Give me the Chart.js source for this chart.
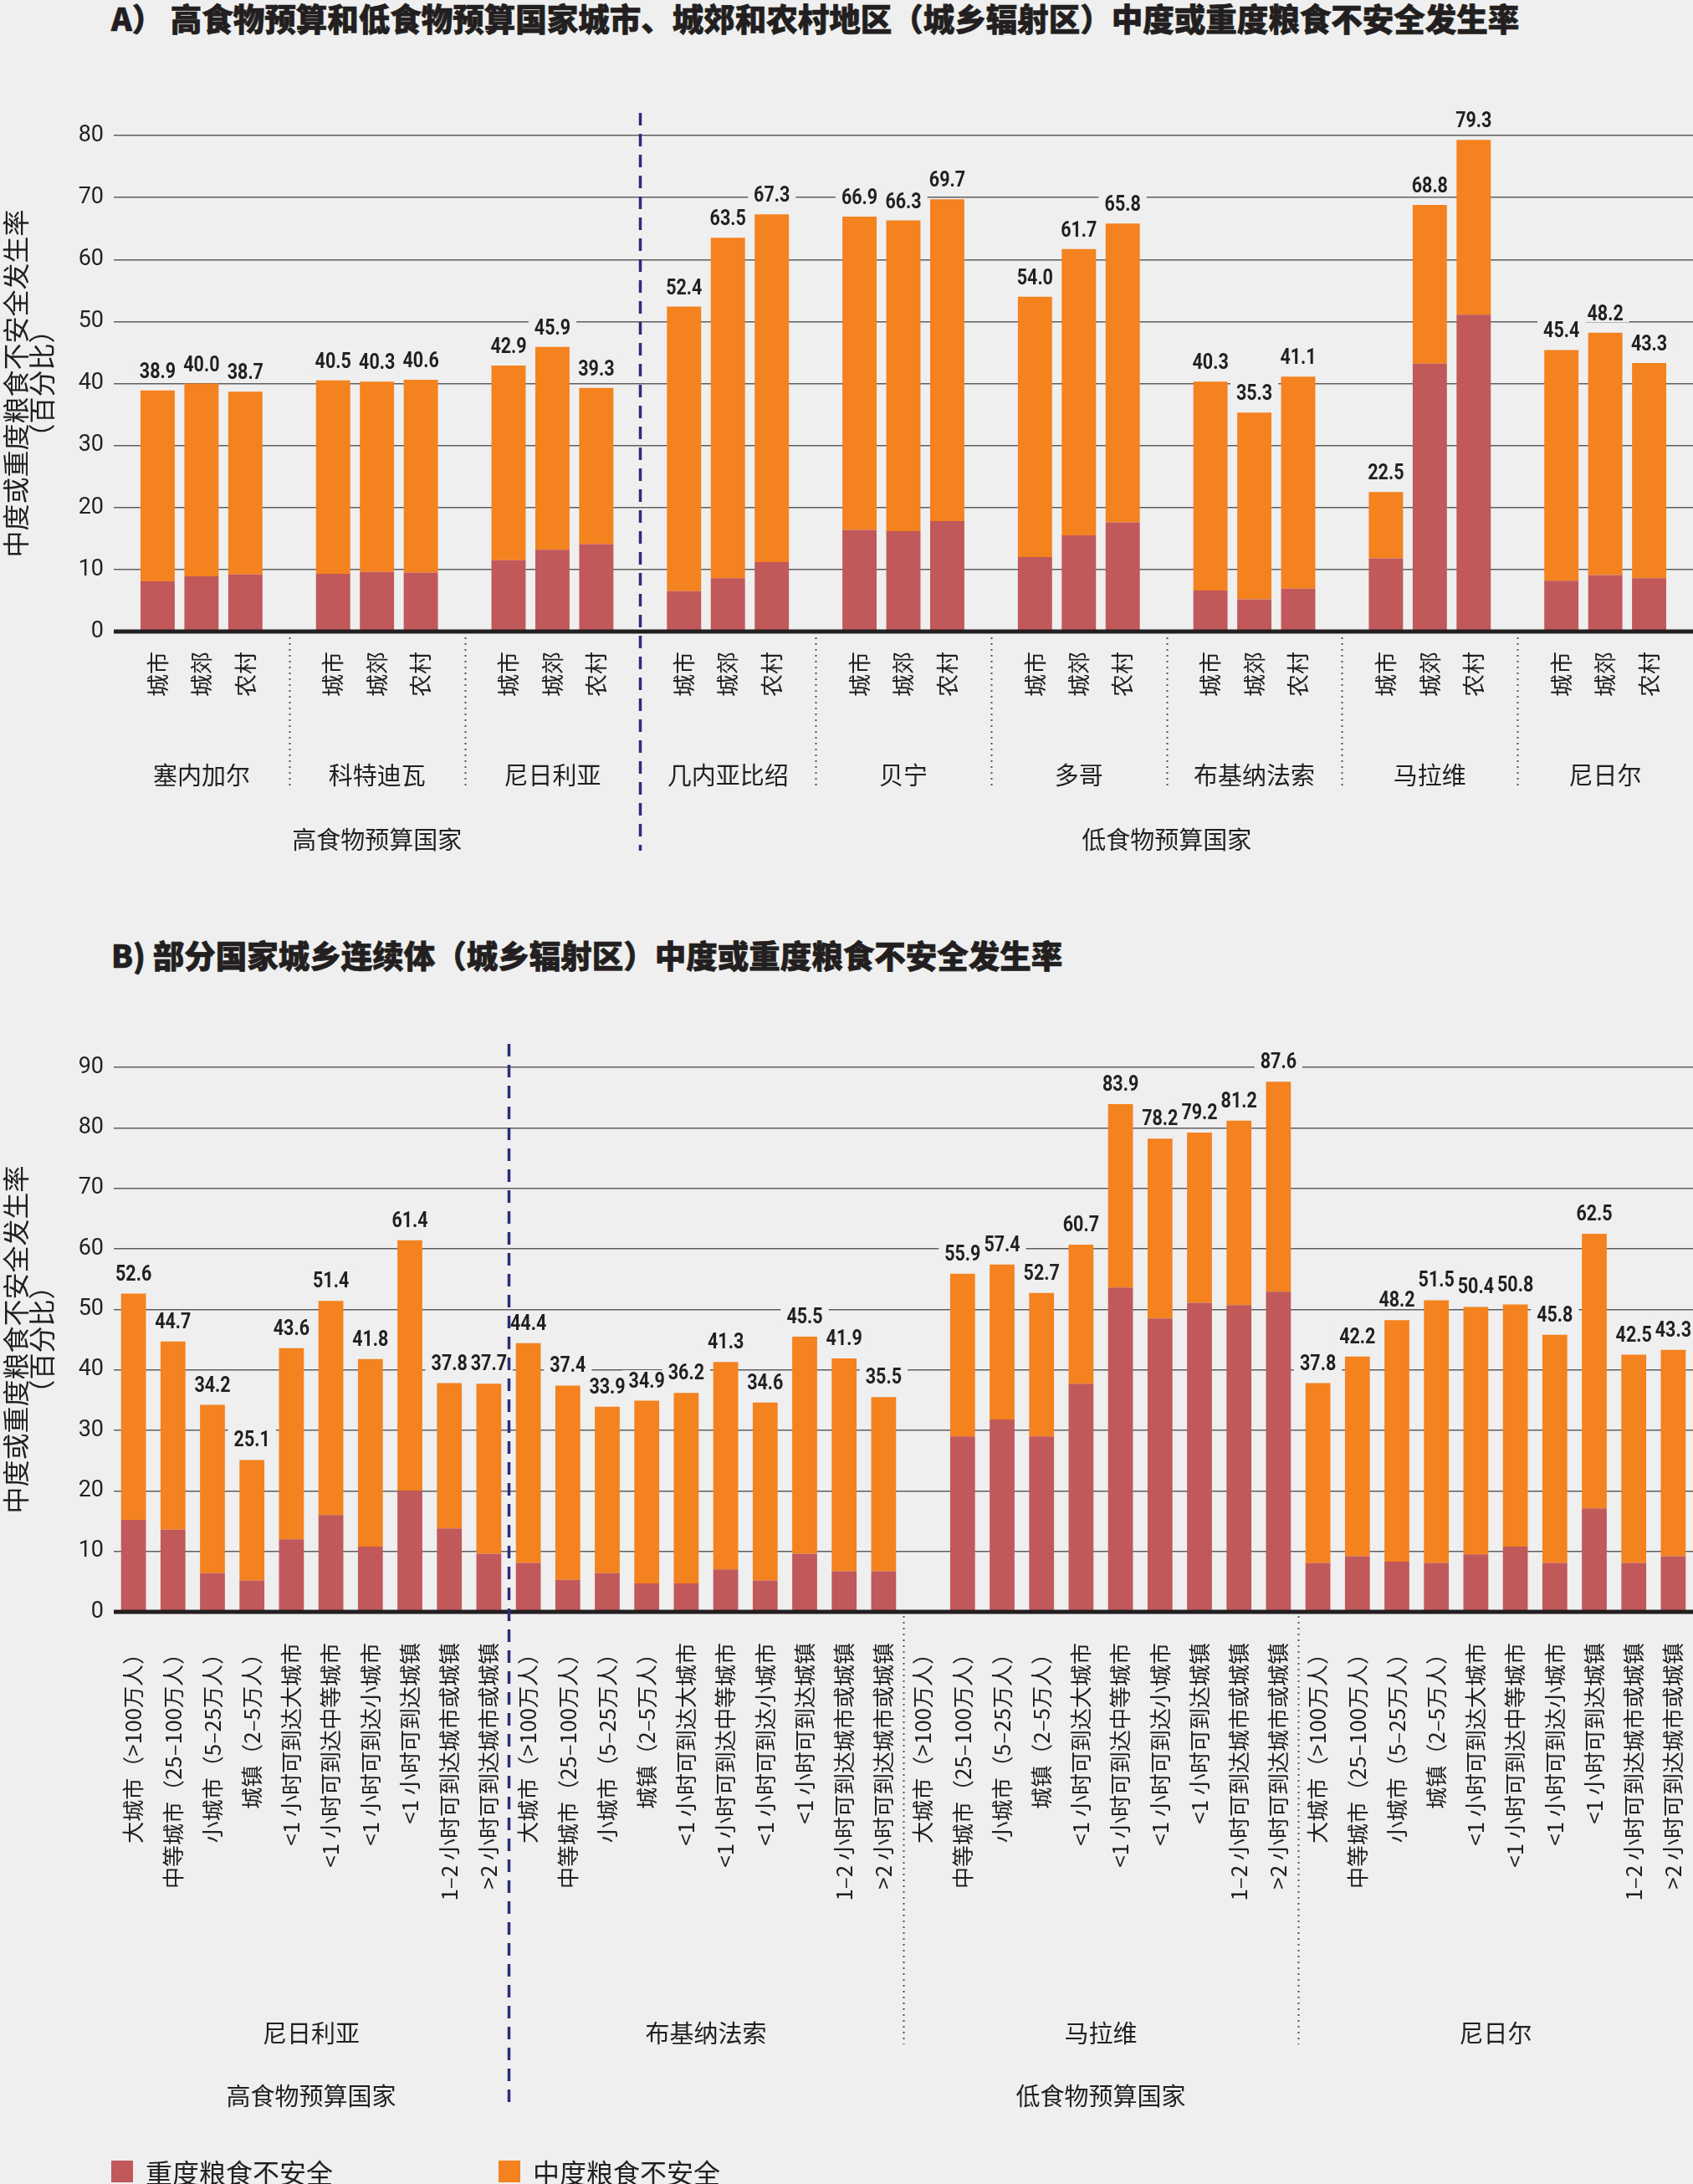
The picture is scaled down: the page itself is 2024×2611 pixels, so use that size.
<!DOCTYPE html>
<html lang="zh-CN">
<head>
<meta charset="utf-8">
<title>城乡辐射区中度或重度粮食不安全发生率</title>
<script src="https://cdn.jsdelivr.net/npm/chart.js@4.4.1/dist/chart.umd.min.js"></script>
<style>
    html, body { margin: 0; padding: 0; background: #efefef; }
    body { width: 2024px; height: 2611px; position: relative; overflow: hidden;
           font-family: 'Noto Sans CJK SC', sans-serif; color: #231f20; }
    .title { position: absolute; left: 133px; font-size: 37.5px; font-weight: 900; line-height: 40px; white-space: nowrap;
             -webkit-text-stroke: 0.7px #231f20; }
    canvas { position: absolute; left: 0; }
    #legend { position: absolute; left: 133px; top: 2576px; font-size: 32px; line-height: 40px; white-space: nowrap; }
    #legend span { position: absolute; top: 0; }
    #legend i { position: absolute; left: 0; top: 7px; width: 26px; height: 26px; }
</style>
</head>
<body>
<div class="title" style="top:1px">A） 高食物预算和低食物预算国家城市、城郊和农村地区（城乡辐射区）中度或重度粮食不安全发生率</div>
<canvas id="chartA" width="2024" height="1060" style="top:0"></canvas>
<div class="title" style="top:1121px">B) 部分国家城乡连续体（城乡辐射区）中度或重度粮食不安全发生率</div>
<canvas id="chartB" width="2024" height="1551" style="top:1060px"></canvas>
<div id="legend"></div>

<script>
const NUM_FONT = "Roboto, 'Noto Sans', sans-serif";
const CJK_FONT = "'Noto Sans CJK SC', sans-serif";
const TEXT_COLOR = '#231f20';
const BG_COLOR = '#efefef';
const SEVERE_COLOR = '#c1585a';
const MODERATE_COLOR = '#f4821f';
const SERIES_NAMES = ['重度粮食不安全', '中度粮食不安全'];
const Y_TITLE = ['中度或重度粮食不安全发生率', '（百分比）'];
const BUDGET_GROUPS = ['高食物预算国家', '低食物预算国家'];

// ---- A) 城市 / 城郊 / 农村 ----
const countriesA = ['塞内加尔', '科特迪瓦', '尼日利亚', '几内亚比绍', '贝宁', '多哥', '布基纳法索', '马拉维', '尼日尔'];
const areasA = ['城市', '城郊', '农村'];
const highBudgetA = 3;
const totalCityA = [38.9, 40.5, 42.9, 52.4, 66.9, 54.0, 40.3, 22.5, 45.4];
const totalPeriA = [40.0, 40.3, 45.9, 63.5, 66.3, 61.7, 35.3, 68.8, 48.2];
const totalRuralA = [38.7, 40.6, 39.3, 67.3, 69.7, 65.8, 41.1, 79.3, 43.3];
const severeCityA = [8.1, 9.3, 11.5, 6.5, 16.4, 12.0, 6.6, 11.8, 8.2];
const severePeriA = [8.9, 9.6, 13.2, 8.6, 16.2, 15.5, 5.2, 43.2, 9.1];
const severeRuralA = [9.2, 9.5, 14.1, 11.2, 17.8, 17.6, 6.9, 51.1, 8.6];
const ticksA = [0, 10, 20, 30, 40, 50, 60, 70, 80];

// ---- B) 城乡连续体 ----
const countriesB = ['尼日利亚', '布基纳法索', '马拉维', '尼日尔'];
const catchmentsB = ['大城市（>100万人）', '中等城市（25–100万人）', '小城市（5–25万人）', '城镇（2–5万人）',
    '<1 小时可到达大城市', '<1 小时可到达中等城市', '<1 小时可到达小城市', '<1 小时可到达城镇',
    '1–2 小时可到达城市或城镇', '>2 小时可到达城市或城镇'];
const highBudgetB = 1;
const totalNigeriaB = [52.6, 44.7, 34.2, 25.1, 43.6, 51.4, 41.8, 61.4, 37.8, 37.7];
const totalBurkinaB = [44.4, 37.4, 33.9, 34.9, 36.2, 41.3, 34.6, 45.5, 41.9, 35.5];
const totalMalawiB = [null, 55.9, 57.4, 52.7, 60.7, 83.9, 78.2, 79.2, 81.2, 87.6];
const totalNigerB = [37.8, 42.2, 48.2, 51.5, 50.4, 50.8, 45.8, 62.5, 42.5, 43.3];
const severeNigeriaB = [15.2, 13.6, 6.4, 5.2, 12.0, 16.0, 10.8, 20.0, 13.8, 9.6];
const severeBurkinaB = [8.1, 5.3, 6.4, 4.7, 4.7, 7.0, 5.2, 9.6, 6.7, 6.7];
const severeMalawiB = [null, 29.0, 31.8, 29.0, 37.7, 53.6, 48.5, 51.1, 50.7, 52.9];
const severeNigerB = [8.1, 9.2, 8.3, 8.1, 9.5, 10.8, 8.1, 17.1, 8.1, 9.2];
const ticksB = [0, 10, 20, 30, 40, 50, 60, 70, 80, 90];

// A 图：每个国家前留一个空位，最后再留一个，三根柱子落在中间
function spreadA(byArea, empty) {
    const out = [];
    countriesA.forEach((c, g) => {
        out.push(empty);
        byArea.forEach(arr => out.push(arr[g]));
    });
    out.push(empty);
    return out;
}

function moderateOf(totals, severe) {
    return totals.map((t, i) => (t == null ? null : Math.round((t - severe[i]) * 10) / 10));
}

const labelsA = spreadA(areasA.map(a => countriesA.map(() => a)), '');
const totalsA = spreadA([totalCityA, totalPeriA, totalRuralA], null);
const severeA = spreadA([severeCityA, severePeriA, severeRuralA], null);

const labelsB = countriesB.flatMap(() => catchmentsB);
const totalsB = [].concat(totalNigeriaB, totalBurkinaB, totalMalawiB, totalNigerB);
const severeB = [].concat(severeNigeriaB, severeBurkinaB, severeMalawiB, severeNigerB);

// 柱顶数值，带底色遮住网格线（字体横向压窄一点）
const totalLabels = {
    id: 'totalLabels',
    afterDatasetsDraw(chart, args, opts) {
        const ctx = chart.ctx;
        const meta = chart.getDatasetMeta(1);
        const y = chart.scales.y;
        const squeeze = 0.86;
        const items = [];
        ctx.save();
        ctx.font = `bold ${opts.size}px ${NUM_FONT}`;
        opts.totals.forEach((v, i) => {
            if (v == null) return;
            const text = v.toFixed(1);
            items.push({ text, x: meta.data[i].x, y: y.getPixelForValue(v) - opts.gap, w: ctx.measureText(text).width * squeeze + 14 });
        });
        ctx.fillStyle = BG_COLOR;
        items.forEach(it => ctx.fillRect(it.x - it.w / 2, it.y - opts.size * 0.82, it.w, opts.size * 0.92));
        ctx.fillStyle = TEXT_COLOR;
        ctx.textAlign = 'center';
        ctx.textBaseline = 'alphabetic';
        items.forEach(it => {
            ctx.save();
            ctx.translate(it.x, it.y);
            ctx.scale(squeeze, 1);
            ctx.fillText(it.text, 0, 0);
            ctx.restore();
        });
        ctx.restore();
    }
};

// 零线画在柱子上面
const zeroLine = {
    id: 'zeroLine',
    afterDatasetsDraw(chart) {
        const ctx = chart.ctx;
        const area = chart.chartArea;
        const y0 = chart.scales.y.getPixelForValue(0);
        ctx.save();
        ctx.strokeStyle = TEXT_COLOR;
        ctx.lineWidth = 5;
        ctx.beginPath();
        ctx.moveTo(area.left, y0);
        ctx.lineTo(area.right, y0);
        ctx.stroke();
        ctx.restore();
    }
};

// 国家之间的点线，预算分组之间的蓝色虚线
const separators = {
    id: 'separators',
    afterDraw(chart, args, opts) {
        const ctx = chart.ctx;
        const x = chart.scales.x;
        ctx.save();
        opts.lines.forEach(l => {
            const px = Math.round(x.getPixelForValue(l.at)) + 0.5;
            ctx.beginPath();
            if (l.budget) {
                ctx.strokeStyle = '#2b2c7c';
                ctx.lineWidth = 3.5;
                ctx.setLineDash([15, 10]);
                ctx.moveTo(px, opts.dashTop);
                ctx.lineTo(px, opts.dashBottom);
            } else {
                ctx.strokeStyle = '#555555';
                ctx.lineWidth = 2;
                ctx.setLineDash([2, 5]);
                ctx.moveTo(px, opts.dotTop);
                ctx.lineTo(px, opts.dotBottom);
            }
            ctx.stroke();
        });
        ctx.restore();
    }
};

function fixedWidth(w) {
    return scale => { scale.width = w; };
}
// 固定高度，并去掉末端标签引起的左右留白
function fixedHeight(h) {
    return scale => {
        scale.height = h;
        scale.paddingLeft = 0;
        scale.paddingRight = 0;
    };
}

function buildChart(canvasId, cfg) {
    const CONTEXT = document.getElementById(canvasId).getContext('2d');
    const n = cfg.countries.length;
    // 预算分组标签轴：2n+1 个位置，标签放在各组中点
    const budgetSlots = Array.from({ length: 2 * n + 1 }, () => '');
    budgetSlots[cfg.highBudget] = BUDGET_GROUPS[0];
    budgetSlots[cfg.highBudget + n] = BUDGET_GROUPS[1];
    return new Chart(CONTEXT, {
        type: 'bar',
        data: {
            labels: cfg.labels,
            datasets: [{
                label: SERIES_NAMES[0],
                data: cfg.severe,
                backgroundColor: SEVERE_COLOR,
                barPercentage: cfg.barPercentage,
                categoryPercentage: 1
            }, {
                label: SERIES_NAMES[1],
                data: moderateOf(cfg.totals, cfg.severe),
                backgroundColor: MODERATE_COLOR,
                barPercentage: cfg.barPercentage,
                categoryPercentage: 1
            }]
        },
        options: {
            responsive: false,
            animation: false,
            layout: { padding: { top: cfg.padTop, bottom: cfg.padBottom, left: 0, right: 0 } },
            plugins: {
                legend: { display: false },
                tooltip: { enabled: false },
                totalLabels: { totals: cfg.totals, size: 25, gap: cfg.labelGap },
                separators: cfg.separators
            },
            scales: {
                x: {
                    stacked: true,
                    offset: cfg.offset,
                    weight: 0,
                    grid: { display: false, drawTicks: false, offset: false },
                    border: { display: false },
                    ticks: {
                        autoSkip: false,
                        minRotation: 90,
                        maxRotation: 90,
                        padding: cfg.tickPad,
                        color: TEXT_COLOR,
                        font: { family: CJK_FONT, size: cfg.tickSize }
                    },
                    afterFit: fixedHeight(cfg.tickHeight)
                },
                xc: {
                    type: 'category',
                    position: 'bottom',
                    labels: cfg.countries,
                    offset: true,
                    weight: 1,
                    grid: { display: false, drawTicks: false },
                    border: { display: false },
                    ticks: { autoSkip: false, maxRotation: 0, padding: cfg.countryPad, color: TEXT_COLOR, font: { family: CJK_FONT, size: 29 } },
                    afterFit: fixedHeight(cfg.countryHeight)
                },
                xb: {
                    type: 'category',
                    position: 'bottom',
                    labels: budgetSlots,
                    offset: false,
                    weight: 2,
                    grid: { display: false, drawTicks: false, offset: false },
                    border: { display: false },
                    ticks: { autoSkip: false, maxRotation: 0, padding: cfg.budgetPad, color: TEXT_COLOR, font: { family: CJK_FONT, size: 29 } },
                    afterFit: fixedHeight(cfg.budgetHeight)
                },
                y: {
                    stacked: true,
                    min: 0,
                    max: cfg.yTicks[cfg.yTicks.length - 1],
                    afterFit: fixedWidth(136),
                    afterBuildTicks: axis => { axis.ticks = cfg.yTicks.map(v => ({ value: v })); },
                    grid: {
                        drawTicks: false,
                        color: ctx => (ctx.tick && ctx.tick.value === 0 ? 'rgba(0,0,0,0)' : '#5e5e5e'),
                        lineWidth: 1.5
                    },
                    border: { display: false },
                    ticks: { padding: 12, color: TEXT_COLOR, font: { family: NUM_FONT, size: 27 } },
                    title: {
                        display: true,
                        text: Y_TITLE,
                        color: TEXT_COLOR,
                        padding: { top: 4, bottom: 0 },
                        font: { family: CJK_FONT, size: 32, lineHeight: 0.95 }
                    }
                }
            }
        },
        plugins: [zeroLine, totalLabels, separators]
    });
}

const sepA = countriesA.slice(1).map((c, i) => ({ at: (i + 1) * 4, budget: i + 1 === highBudgetA }));
const CHART_A = buildChart('chartA', {
    labels: labelsA,
    totals: totalsA,
    severe: severeA,
    countries: countriesA,
    highBudget: highBudgetA,
    yTicks: ticksA,
    offset: false,
    barPercentage: 0.78,
    padTop: 162,
    padBottom: 0,
    labelGap: 15,
    tickSize: 27,
    tickPad: 24,
    tickHeight: 95,
    countryPad: 60,
    countryHeight: 115,
    budgetPad: 22,
    budgetHeight: 95,
    separators: { lines: sepA, dotTop: 762, dotBottom: 942, dashTop: 135, dashBottom: 1017 }
});

const nB = catchmentsB.length;
const sepB = countriesB.slice(1).map((c, i) => ({ at: (i + 1) * nB - 0.5, budget: i + 1 === highBudgetB }));
const CHART_B = buildChart('chartB', {
    labels: labelsB,
    totals: totalsB,
    severe: severeB,
    countries: countriesB,
    highBudget: highBudgetB,
    yTicks: ticksB,
    offset: true,
    barPercentage: 0.63,
    padTop: 216,
    padBottom: 51,
    labelGap: 16,
    tickSize: 26,
    tickPad: 37,
    tickHeight: 403,
    countryPad: 84,
    countryHeight: 140,
    budgetPad: 19,
    budgetHeight: 90,
    separators: { lines: sepB, dotTop: 872, dotBottom: 1384, dashTop: 188, dashBottom: 1457 }
});

// 图例（两张图共用）
const LEGEND = document.getElementById('legend');
CHART_B.data.datasets.forEach((ds, i) => {
    const item = document.createElement('span');
    item.style.left = (i * 463) + 'px';
    item.innerHTML = `<i style="background:${ds.backgroundColor}"></i><b style="font-weight:400;margin-left:41px">${ds.label}</b>`;
    LEGEND.appendChild(item);
});
</script>
</body>
</html>
